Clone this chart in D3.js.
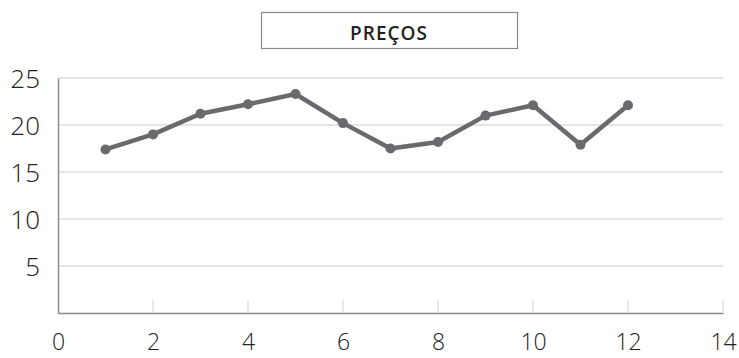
<!DOCTYPE html>
<html>
<head>
<meta charset="utf-8">
<script src="https://cdn.jsdelivr.net/npm/d3@7"></script>
<style>
  html, body { margin: 0; padding: 0; background: #fff; }
  svg { display: block; }
</style>
</head>
<body>
<svg id="chart" width="739" height="358"></svg>
<script>
// Monthly price series
const months = [1, 2, 3, 4, 5, 6, 7, 8, 9, 10, 11, 12];
const prices = [17.4, 19.0, 21.2, 22.2, 23.3, 20.2, 17.5, 18.2, 21.0, 22.1, 17.9, 22.1];
const xTicks = [0, 2, 4, 6, 8, 10, 12, 14];
const yTicks = [5, 10, 15, 20, 25];
const title = "PREÇOS";

const svg = d3.select("#chart");
const margin = { left: 58, right: 16, top: 78, bottom: 45 };
const W = 739, H = 358;

const x = d3.scaleLinear().domain([0, 14]).range([margin.left, W - margin.right]);
const y = d3.scaleLinear().domain([0, 25]).range([H - margin.bottom, margin.top]);

const labelFont = "'Open Sans', 'DejaVu Sans', sans-serif";

// horizontal gridlines
svg.append("g")
  .selectAll("line")
  .data(yTicks)
  .join("line")
  .attr("x1", x(0)).attr("x2", x(14))
  .attr("y1", d => y(d)).attr("y2", d => y(d))
  .attr("stroke", "#dcdcdc").attr("stroke-width", 1.3);

// x axis: ticks pointing up into the plot
const xAxis = svg.append("g")
  .attr("transform", `translate(0,${y(0)})`)
  .call(d3.axisBottom(x).tickValues(xTicks).tickSize(0).tickPadding(0).tickSizeOuter(0));
xAxis.select(".domain").attr("stroke", "#8a8a8a").attr("stroke-width", 1.5);
xAxis.selectAll(".tick line").remove();
xAxis.selectAll(".tick text")
  .attr("font-family", labelFont).attr("font-size", 23).attr("font-weight", 300)
  .attr("fill", "#222").attr("y", 37).attr("dy", null);

svg.append("g")
  .selectAll("line")
  .data(xTicks.slice(1))
  .join("line")
  .attr("x1", d => x(d)).attr("x2", d => x(d))
  .attr("y1", y(0)).attr("y2", y(0) - 13)
  .attr("stroke", "#dcdcdc").attr("stroke-width", 1.3);

// y axis
const yAxis = svg.append("g")
  .attr("transform", `translate(${x(0)},0)`)
  .call(d3.axisLeft(y).tickValues(yTicks).tickSize(0).tickPadding(18).tickSizeOuter(0));
yAxis.select(".domain").attr("stroke", "#8a8a8a").attr("stroke-width", 1.5);
yAxis.selectAll(".tick text")
  .attr("font-family", labelFont).attr("font-size", 26).attr("font-weight", 300)
  .attr("fill", "#222").attr("dy", "0.36em");

// price line
const line = d3.line().x((d, i) => x(months[i])).y(d => y(d));
svg.append("path")
  .datum(prices)
  .attr("d", line)
  .attr("fill", "none")
  .attr("stroke", "#6a6a6e")
  .attr("stroke-width", 4.5)
  .attr("stroke-linejoin", "round");

svg.append("g")
  .selectAll("circle")
  .data(prices)
  .join("circle")
  .attr("cx", (d, i) => x(months[i]))
  .attr("cy", d => y(d))
  .attr("r", 5)
  .attr("fill", "#6a6a6e");

// title box
const tg = svg.append("g");
tg.append("rect")
  .attr("x", 261.5).attr("y", 12.5).attr("width", 256).attr("height", 36)
  .attr("fill", "#fff").attr("stroke", "#8a8a8a").attr("stroke-width", 1.2);
tg.append("text")
  .attr("x", 389).attr("y", 39.5)
  .attr("text-anchor", "middle")
  .attr("font-family", labelFont).attr("font-size", 19).attr("font-weight", 600)
  .attr("letter-spacing", 1)
  .attr("fill", "#222")
  .text(title);
</script>
</body>
</html>
